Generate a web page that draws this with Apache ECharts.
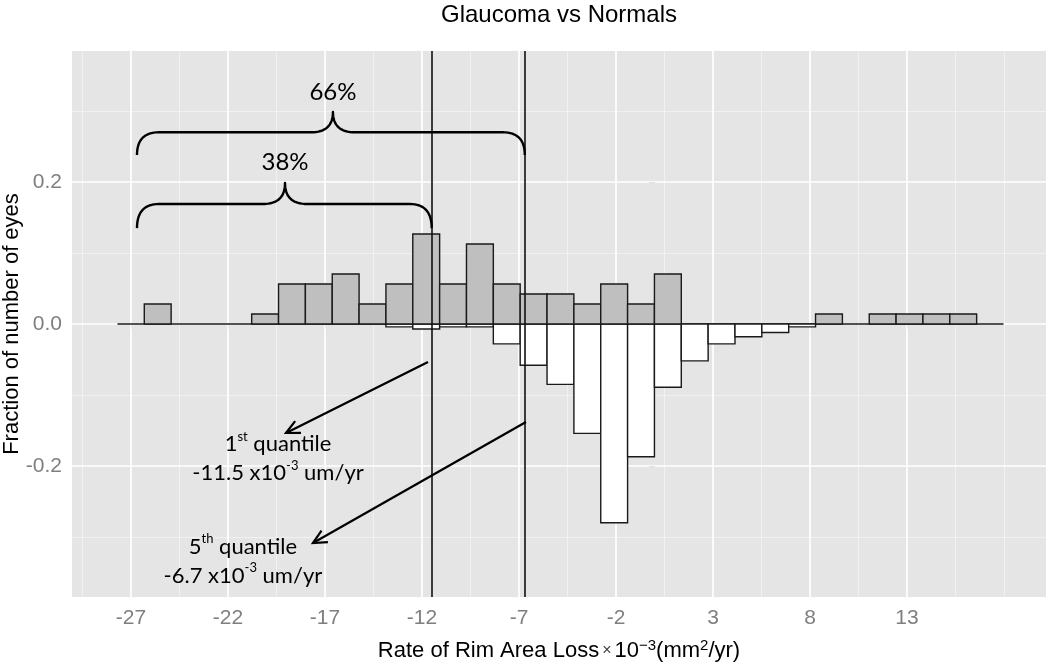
<!DOCTYPE html>
<html><head><meta charset="utf-8">
<script src="https://cdn.jsdelivr.net/npm/echarts@6/dist/echarts.min.js"></script>
<style>html,body{margin:0;padding:0;background:#fff}#c{width:1050px;height:670px}</style>
</head><body><div id="c"></div>
<script>
// ---- data ----
const binStart = -26.314;          // left edge of first bin
const binWidth = 1.384;            // histogram bin width
const glaucoma = [0.0282, 0, 0, 0, 0.0141, 0.0563, 0.0563, 0.0704, 0.0282, 0.0563, 0.1268, 0.0563, 0.1127, 0.0563, 0.0423, 0.0423, 0.0282, 0.0563, 0.0282, 0.0704, 0, 0, 0, 0, 0, 0.0141, 0, 0.0141, 0.0141, 0.0141, 0.0141];
const normals  = [0, 0, 0, 0, 0, 0, 0, 0, 0, -0.004, -0.007, -0.004, -0.004, -0.028, -0.058, -0.085, -0.154, -0.280, -0.187, -0.089, -0.052, -0.028, -0.018, -0.012, -0.004, 0, 0, 0, 0, 0, 0];
const xTickValues = [-27, -22, -17, -12, -7, -2, 3, 8, 13];
const xMinorGrid  = [-29.5, -24.5, -19.5, -14.5, -9.5, -4.5, 0.5, 5.5, 10.5, 15.5, 18];
const yTickValues = [-0.2, 0, 0.2];
const yMinorGrid  = [-0.3, -0.1, 0.1, 0.3];
const quantileLines = [-11.5, -6.7];
const xRange = [-30.04, 20.165];
const yRange = [-0.3845, 0.3845];

// annotations (data coordinates)
const braces = [
  { label: '66%', x1: -26.69, x2: -6.7,  xTip: -16.59, yEnd: 0.238, yMid: 0.270, yTip: 0.2986, labelY: 0.327 },
  { label: '38%', x1: -26.69, x2: -11.5, xTip: -19.06, yEnd: 0.135, yMid: 0.169, yTip: 0.1986, labelY: 0.228 }
];
const arrows = [
  { from: [-11.69, -0.0535], to: [-19.01, -0.1535] },
  { from: [-6.64, -0.138],   to: [-17.62, -0.3085] }
];
const notes = [
  { at: [-19.42, -0.190], text: '{n|1}{s|st}{n| quantile}\n{n|-11.5 x10}{s|-3}{n| um/yr}' },
  { at: [-21.23, -0.334], text: '{n|5}{s|th}{n| quantile}\n{n|-6.7 x10}{s|-3}{n| um/yr}' }
];

// ---- chart ----
const chart = echarts.init(document.getElementById('c'), null, { renderer: 'canvas' });
const AX = '#7F7F7F';
const FONT = 'Liberation Sans';

function binData(vals) {
  const out = [];
  vals.forEach((v, i) => { if (v !== 0) out.push([binStart + i * binWidth, binStart + (i + 1) * binWidth, v]); });
  return out;
}
function barRenderer(fill) {
  return function (params, api) {
    const p0 = api.coord([api.value(0), 0]);
    const p1 = api.coord([api.value(1), api.value(2)]);
    return {
      type: 'rect',
      shape: { x: p0[0], y: Math.min(p0[1], p1[1]), width: p1[0] - p0[0], height: Math.abs(p1[1] - p0[1]) },
      style: { fill: fill, stroke: '#1a1a1a', lineWidth: 1.4 }
    };
  };
}
const gridLines = []
  .concat(xMinorGrid.map(v => ({ xAxis: v, lineStyle: { color: '#F2F2F2', width: 0.9, type: 'solid' } })))
  .concat(yMinorGrid.map(v => ({ yAxis: v, lineStyle: { color: '#F2F2F2', width: 0.9, type: 'solid' } })))
  .concat(xTickValues.map(v => ({ xAxis: v, lineStyle: { color: '#FFFFFF', width: 1.7, type: 'solid' } })))
  .concat(yTickValues.map(v => ({ yAxis: v, lineStyle: { color: '#FFFFFF', width: 1.7, type: 'solid' } })));

chart.setOption({
  animation: false,
  backgroundColor: '#fff',
  textStyle: { fontFamily: FONT },
  title: {
    text: 'Glaucoma vs Normals', left: 559, top: 3, textAlign: 'center', padding: 0,
    textStyle: { fontFamily: FONT, fontSize: 24, fontWeight: 'normal', color: '#000' }
  },
  grid: { left: 72, right: 4, top: 51, bottom: 73, show: true, backgroundColor: '#E5E5E5', borderWidth: 0,
          containLabel: false, outerBoundsMode: 'none' },
  xAxis: {
    type: 'value', min: xRange[0], max: xRange[1],
    axisLine: { show: false },
    splitLine: { show: false },
    axisTick: { show: true, length: 5, customValues: xTickValues, lineStyle: { color: AX, width: 1 } },
    axisLabel: { customValues: xTickValues, color: AX, fontSize: 21, margin: 11, fontFamily: FONT },
    name: '{t|Rate of Rim Area Loss}{x|×}{t|10}{s|−3}{t|(mm}{s|2}{t|/yr)}',
    nameLocation: 'middle', nameGap: 41, nameMoveOverlap: false,
    nameTextStyle: {
      rich: {
        t: { fontSize: 22, fontFamily: FONT, color: '#000', lineHeight: 26 },
        x: { fontSize: 16, fontFamily: FONT, color: '#444', lineHeight: 26, padding: [0, 3, 0, 3] },
        s: { fontSize: 15, fontFamily: FONT, color: '#000', lineHeight: 18, verticalAlign: 'top' }
      }
    }
  },
  yAxis: {
    type: 'value', min: yRange[0], max: yRange[1],
    axisLine: { show: false },
    splitLine: { show: false },
    axisTick: { show: true, length: 6, customValues: yTickValues, lineStyle: { color: AX, width: 1 } },
    axisLabel: { customValues: yTickValues, color: AX, fontSize: 21, margin: 10, fontFamily: FONT, formatter: v => v.toFixed(1) },
    name: 'Fraction of number of eyes', nameLocation: 'middle', nameGap: 49, nameMoveOverlap: false,
    nameTextStyle: { fontSize: 22, color: '#000', fontFamily: FONT }
  },
  series: [
    {
      type: 'line', data: [[xRange[0], 0]], symbol: 'none', z: 1, silent: true,
      lineStyle: { opacity: 0 },
      markLine: { silent: true, z: 1, symbol: ['none', 'none'], label: { show: false }, animation: false, data: gridLines }
    },
    {
      type: 'line', z: 3, symbol: 'none', silent: true,
      data: [[binStart - binWidth, 0], [binStart + (glaucoma.length + 1) * binWidth, 0]],
      lineStyle: { color: '#1a1a1a', width: 1.4 }
    },
    {
      name: 'Normals', type: 'custom', z: 4, renderItem: barRenderer('#FFFFFF'),
      encode: { x: [0, 1], y: 2 }, data: binData(normals)
    },
    {
      name: 'Glaucoma', type: 'custom', z: 5, renderItem: barRenderer('#BFBFBF'),
      encode: { x: [0, 1], y: 2 }, data: binData(glaucoma)
    },
    {
      type: 'line', data: [[xRange[0], 0]], symbol: 'none', z: 8, silent: true,
      lineStyle: { opacity: 0 },
      markLine: {
        silent: true, z: 8, symbol: ['none', 'none'], label: { show: false }, animation: false,
        lineStyle: { color: '#111', width: 1.6, type: 'solid' },
        data: quantileLines.map(v => ({ xAxis: v }))
      }
    }
  ]
});

// ---- annotations, positioned through the axes ----
function px(p) { return chart.convertToPixel({ gridIndex: 0 }, p); }
function quad(a, c, b, n, pts) {
  for (let i = 1; i <= n; i++) {
    const t = i / n, u = 1 - t;
    pts.push([u * u * a[0] + 2 * u * t * c[0] + t * t * b[0], u * u * a[1] + 2 * u * t * c[1] + t * t * b[1]]);
  }
}
const g = [];
braces.forEach(b => {
  const L = px([b.x1, b.yEnd]), R = px([b.x2, b.yEnd]);
  const M = px([b.xTip, b.yMid]), T = px([b.xTip, b.yTip]);
  const yE = L[1], yM = M[1], yT = T[1], xL = L[0], xR = R[0], xT = T[0];
  const r = 22;
  const pts = [[xL, yE]];
  quad([xL, yE], [xL, yM], [xL + r, yM], 16, pts);
  pts.push([xT - r, yM]);
  quad([xT - r, yM], [xT, yM], [xT, yT], 16, pts);
  quad([xT, yT], [xT, yM], [xT + r, yM], 16, pts);
  pts.push([xR - r, yM]);
  quad([xR - r, yM], [xR, yM], [xR, yE], 16, pts);
  g.push({ type: 'polyline', shape: { points: pts }, style: { fill: null, stroke: '#000', lineWidth: 2.4, lineJoin: 'round' }, z: 20 });
  const tp = px([b.xTip, b.labelY]);
  g.push({ type: 'text', x: tp[0], y: tp[1], z: 20,
    style: { text: b.label, fill: '#000', fontSize: 24, fontFamily: 'Lato', align: 'center', verticalAlign: 'middle' } });
});
arrows.forEach(a => {
  const s = px(a.from), e = px(a.to);
  g.push({ type: 'line', shape: { x1: s[0], y1: s[1], x2: e[0], y2: e[1] }, style: { stroke: '#000', lineWidth: 2.2 }, z: 20 });
  const ang = Math.atan2(s[1] - e[1], s[0] - e[0]);
  const len = 15, spread = 0.45;
  const h1 = [e[0] + len * Math.cos(ang + spread), e[1] + len * Math.sin(ang + spread)];
  const h2 = [e[0] + len * Math.cos(ang - spread), e[1] + len * Math.sin(ang - spread)];
  g.push({ type: 'polyline', shape: { points: [h1, e, h2] }, style: { fill: null, stroke: '#000', lineWidth: 2.2 }, z: 20 });
});
notes.forEach(n => {
  const p = px(n.at);
  g.push({ type: 'text', x: p[0], y: p[1], z: 20,
    style: {
      text: n.text, align: 'center', verticalAlign: 'middle',
      rich: {
        n: { fontSize: 22, fontFamily: 'Lato', fill: '#000', lineHeight: 29 },
        s: { fontSize: 13, fontFamily: 'Lato', fill: '#000', lineHeight: 22, verticalAlign: 'top' }
      }
    } });
});
chart.setOption({ graphic: { elements: g } });
</script>
</body></html>
